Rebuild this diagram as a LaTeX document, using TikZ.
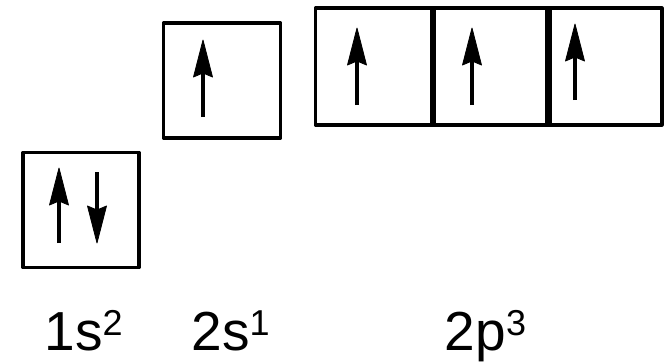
\documentclass[tikz,border=0pt]{standalone}
\usepackage{fontspec}
\setmainfont{Liberation Sans}
\usetikzlibrary{calc}
\newcommand{\supnum}[1]{\raisebox{15pt}{\fontsize{36}{36}\selectfont #1}}
\begin{document}
\begin{tikzpicture}[x=1pt,y=-1pt,
  orb/.style={draw=black,line width=3.2pt,line join=round,inner sep=0pt,minimum width=116pt,minimum height=115pt},
  shaft/.style={line width=3.6pt},
  head/.style={fill=black,draw=black,line width=0.8pt,line join=round},
  lbl/.style={anchor=base,inner sep=0pt,font=\fontsize{55}{55}\selectfont}]
\useasboundingbox (0,0) rectangle (670,362);
% boxes
\node[orb] (s1) at (81,210) {};
\node[orb,minimum width=117pt] (s2) at (222,80.5) {};
\node[orb,minimum height=117pt] (p1) at (373.5,66.5) {};
\node[orb,minimum height=117pt] (p2) at (489.5,66.5) {};
\node[orb,minimum height=117pt,minimum width=115pt] (p3) at (604.5,66.5) {};
\draw[line width=5pt] (p1.north east) -- (p1.south east);
\draw[line width=5pt] (p2.north east) -- (p2.south east);
% up arrows: base point and tip
\foreach \n/\x/\yb/\yt in {a1/59/243/168, b1/203/117/40, c1/357/105/28, c2/472/105/28, c3/575/100/24}{
  \coordinate (\n) at (\x,\yb);
  \coordinate (\n t) at (\x,\yt);
  \draw[shaft] (\n) -- ($(\n t)+(0,30)$);
  \filldraw[head] (\n t) -- ++(-9.5,37) -- ++(9.5,-4) -- ++(9.5,4) -- cycle;
}
% down arrow
\coordinate (a2) at (97,172); \coordinate (a2t) at (97,243);
\draw[shaft] (a2) -- ($(a2t)+(0,-30)$);
\filldraw[head] (a2t) -- ++(-9.5,-37) -- ++(9.5,4) -- ++(9.5,-4) -- cycle;
% labels
\node[lbl] (l1) at (83.5,350) {1s\supnum{2}};
\node[lbl] (l2) at (230.5,350) {2s\supnum{1}};
\node[lbl] (l3) at (485.5,350) {2p\supnum{3}};
\end{tikzpicture}
\end{document}
